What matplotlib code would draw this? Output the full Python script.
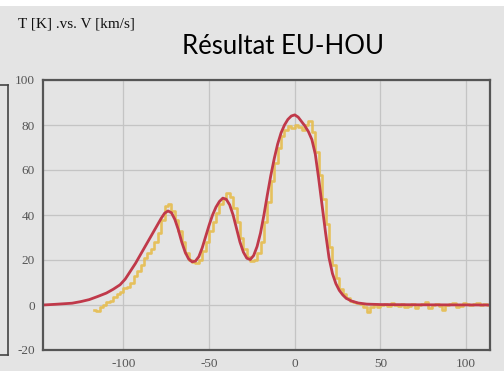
import matplotlib
matplotlib.use("Agg")
import matplotlib.pyplot as plt
from matplotlib.lines import Line2D
from matplotlib.patches import Rectangle

plt.rcParams["axes.unicode_minus"] = False

# model curve (red)
v_model = [-147, -140, -130, -125, -120, -115, -110, -106, -102, -99, -96, -93, -90, -87,
           -84, -81, -78, -76, -74, -72, -70, -68, -66, -64, -62, -60, -58, -56, -54,
           -52, -50, -48, -46, -44, -42, -40, -38, -36, -34, -32, -30, -28, -26, -24,
           -22, -20, -18, -16, -14, -12, -10, -8, -6, -4, -2, 0, 2, 4, 6, 8, 10, 12,
           14, 16, 18, 20, 22, 24, 26, 28, 30, 33, 37, 42, 50, 70, 114]
t_model = [0, 0.3, 0.8, 1.5, 2.4, 3.8, 5.3, 7, 9, 11.5, 15, 18.5, 22.5, 26.5,
           30.5, 34.5, 38.5, 40.8, 41.8, 41, 38, 33.5, 28, 23.5, 20.5, 19.2, 19.5, 21.5, 25.5,
           30.5, 35.5, 40, 43.5, 46, 47.5, 47, 44.5, 40, 34, 28, 23.5, 20.8, 20.2, 22,
           26, 32, 40, 49, 57.5, 65, 71.5, 76.5, 80, 82.5, 84, 84.5, 83.5, 81.5, 79.5, 77, 73.5, 67,
           56, 44, 32, 21, 14, 9.5, 6.5, 4.5, 3, 1.8, 0.9, 0.4, 0.2, 0.1, 0]

# observed spectrum (yellow)
v_obs = list(range(-117, 114, 2))
t_obs = [-2, -2.5, -1, 0, 1.5, 2, 3.5, 5, 6,
         7.5, 8, 10, 13, 15, 18, 21, 23, 25, 28,
         32, 38, 44, 45, 42, 38, 33, 28, 23, 20,
         19, 18.5, 20, 24, 28, 33, 37, 41, 45, 47,
         50, 48, 43, 37, 30, 25, 21.5, 19.5, 20, 23,
         28, 37, 46, 55, 63, 70, 75, 78, 79.5, 78.5,
         80, 79, 78, 80, 82, 77, 68, 58, 47, 36,
         26, 18, 12, 7, 5, 3, 2, 1.5, 1, 0.5,
         -1, -3, -1, 0.5, -1, 0, 0.5, -0.5, 1, 0,
         -0.5, 0.5, -1, -0.5, 0.5, -1.5, 0, 0.5, 1.5, -1.5,
         0, 0.5, -0.5, -2, 0, 0.5, 1, -1, -0.5, 1,
         0.5, 0, 0.5, 1, 0, 0.5, 0]

y_ticks = [-20, 0, 20, 40, 60, 80, 100]
x_ticks = [-100, -50, 0, 50, 100]

bg = "#e4e4e4"
fig = plt.figure(figsize=(5.04, 3.71), dpi=100, facecolor=bg)
fig.add_artist(Rectangle((0, 1 - 6 / 371), 1, 6 / 371, transform=fig.transFigure,
                         facecolor="white", edgecolor="none"))

ax = fig.add_axes([43 / 504, 1 - 350 / 371, 447 / 504, 270 / 371])
ax.set_facecolor(bg)

ax.plot(v_obs, t_obs, drawstyle="steps-mid", color="#e6bd4e", lw=1.9, alpha=0.9)
ax.plot(v_model, t_model, color="#c0394a", lw=2.0)

ax.set_xlim(-147, 114)
ax.set_ylim(-20, 100)
ax.set_xticks(x_ticks)
ax.set_yticks(y_ticks)
ax.grid(True, color="#c4c4c4", lw=0.9)
ax.set_axisbelow(True)
ax.tick_params(length=0, pad=6, labelsize=9.5, labelcolor="#555555")
for lab in ax.get_xticklabels() + ax.get_yticklabels():
    lab.set_family("Liberation Serif")
for s in ax.spines.values():
    s.set_color("#555555")
    s.set_linewidth(1.6)

fig.text(18 / 504, 1 - 24 / 371, "T [K] .vs. V [km/s]", family="Liberation Serif",
         fontsize=11, va="center", ha="left", color="#111111")
fig.text(283 / 504, 1 - 46 / 371, "Résultat EU-HOU", family="Lato",
         fontsize=18.5, va="center", ha="center", color="black")

# remnant bracket of a neighbouring figure on the left edge
fig.add_artist(Line2D([8 / 504, 8 / 504], [1 - 85 / 371, 1 - 355 / 371],
                      transform=fig.transFigure, color="#444444", lw=1.2))
fig.add_artist(Line2D([0, 8 / 504], [1 - 85 / 371, 1 - 85 / 371],
                      transform=fig.transFigure, color="#444444", lw=1.2))
fig.add_artist(Line2D([0, 8 / 504], [1 - 355 / 371, 1 - 355 / 371],
                      transform=fig.transFigure, color="#444444", lw=1.2))

fig.savefig("out.png", dpi=100, facecolor=bg)
